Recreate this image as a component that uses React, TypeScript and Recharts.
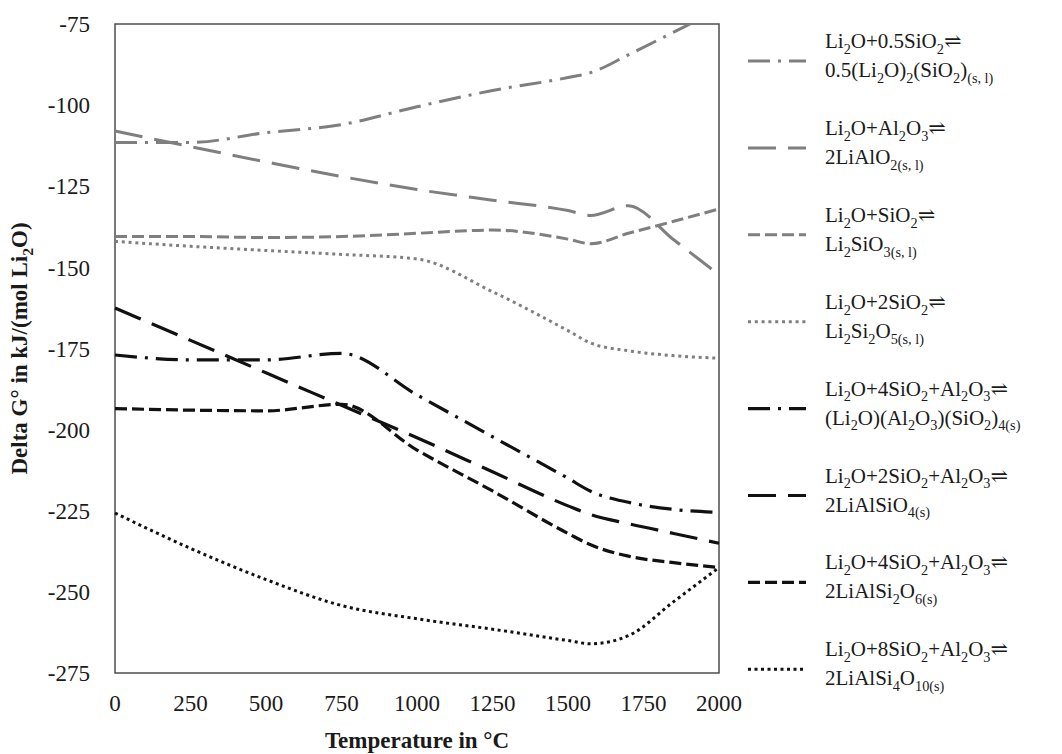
import React from "react";
import { LineChart, Line, XAxis, YAxis, ReferenceArea, Legend } from "recharts";

// temperatures (°C) at which every reaction is read
const temps = [0, 250, 500, 750, 1000, 1250, 1500, 1575, 1700, 1850, 2000];

// Delta G° in kJ/(mol Li2O)
const li2oHalfSio2 = [-111.5, -111.5, -108.5, -106, -100.5, -95.5, -91.5, -90, -84.5, -77.5, -70.5];
const li2oAl2o3 = [-108, -112.8, -117.5, -122, -126, -129.3, -132.5, -134, -131, -141.5, -152.3];
const li2oSio2 = [-140.5, -140.5, -140.8, -140.5, -139.5, -138.5, -141.3, -142.7, -139.5, -135.8, -132];
const li2o2Sio2 = [-142, -143.5, -144.8, -146, -147.4, -157.5, -169.5, -173.3, -175.7, -177.2, -178];
const li2o4Sio2Al2o3 = [-177, -178.5, -178.5, -176.5, -189.3, -202.2, -215, -219, -222.4, -224.6, -225.5];
const li2o2Sio2Al2o3 = [-162.5, -172.5, -182.5, -192.5, -202.5, -213, -223.5, -226.2, -229, -232, -235];
const spodumene = [-193.5, -194, -194.2, -192.2, -206.3, -218.9, -232, -235.5, -239, -241, -242.5];
const petalite = [-225.7, -236.6, -246.2, -254.2, -258.3, -261.5, -265, -266, -263.5, -253, -242.5];

const yTicks = [-75, -100, -125, -150, -175, -200, -225, -250, -275];
const xTicks = [0, 250, 500, 750, 1000, 1250, 1500, 1750, 2000];

const legendLabels = [
  ["Li_{2}O+0.5SiO_{2}⇌", "0.5(Li_{2}O)_{2}(SiO_{2})_{(s, l)}"],
  ["Li_{2}O+Al_{2}O_{3}⇌", "2LiAlO_{2(s, l)}"],
  ["Li_{2}O+SiO_{2}⇌", "Li_{2}SiO_{3(s, l)}"],
  ["Li_{2}O+2SiO_{2}⇌", "Li_{2}Si_{2}O_{5(s, l)}"],
  ["Li_{2}O+4SiO_{2}+Al_{2}O_{3}⇌", "(Li_{2}O)(Al_{2}O_{3})(SiO_{2})_{4(s)}"],
  ["Li_{2}O+2SiO_{2}+Al_{2}O_{3}⇌", "2LiAlSiO_{4(s)}"],
  ["Li_{2}O+4SiO_{2}+Al_{2}O_{3}⇌", "2LiAlSi_{2}O_{6(s)}"],
  ["Li_{2}O+8SiO_{2}+Al_{2}O_{3}⇌", "2LiAlSi_{4}O_{10(s)}"],
];

const GRAY = "#7f7f7f";
const BLACK = "#111111";
const FONT = '"Liberation Serif", "DejaVu Serif", serif';

const series = [
  { key: "s1", values: li2oHalfSio2, color: GRAY, dash: "22 8 3 8", width: 3 },
  { key: "s2", values: li2oAl2o3, color: GRAY, dash: "28 12", width: 3 },
  { key: "s3", values: li2oSio2, color: GRAY, dash: "12 5", width: 3 },
  { key: "s4", values: li2o2Sio2, color: GRAY, dash: "3 3.8", width: 3 },
  { key: "s5", values: li2o4Sio2Al2o3, color: BLACK, dash: "22 8 3 8", width: 3.2 },
  { key: "s6", values: li2o2Sio2Al2o3, color: BLACK, dash: "28 12", width: 3.2 },
  { key: "s7", values: spodumene, color: BLACK, dash: "12 5", width: 3.2 },
  { key: "s8", values: petalite, color: BLACK, dash: "3 3.5", width: 3 },
];

const data = temps.map((t, i) => {
  const row: Record<string, number> = { t };
  series.forEach((s) => (row[s.key] = s.values[i]));
  return row;
});

// text with _{...} subscripts
function Formula({ text, x, y, size, weight, anchor, transform }: any) {
  const parts = text.split(/(_\{[^}]*\})/).filter(Boolean);
  const shift = size * 0.28;
  let down = false;
  return (
    <text x={x} y={y} fontSize={size} fontFamily={FONT} fontWeight={weight} fill="#1a1a1a" textAnchor={anchor} transform={transform}>
      {parts.map((p: string, i: number) => {
        if (p.startsWith("_{")) {
          const el = (
            <tspan key={i} dy={down ? 0 : shift} fontSize={size * 0.68}>
              {p.slice(2, -1)}
            </tspan>
          );
          down = true;
          return el;
        }
        const el = (
          <tspan key={i} dy={down ? -shift : 0}>
            {p}
          </tspan>
        );
        down = false;
        return el;
      })}
    </text>
  );
}

function LegendBox() {
  return (
    <svg width={317} height={754}>
      {series.map((s, i) => {
        const base = 48 + i * 86.9;
        return (
          <g key={s.key}>
            <line x1={3} x2={61} y1={base + 13} y2={base + 13} stroke={s.color} strokeWidth={s.width} strokeDasharray={s.dash} />
            <Formula text={legendLabels[i][0]} x={80} y={base} size={21} />
            <Formula text={legendLabels[i][1]} x={80} y={base + 29} size={21} />
          </g>
        );
      })}
    </svg>
  );
}

export default function App() {
  return (
    <div style={{ position: "absolute", left: 0, top: 0, background: "#fff" }}>
      <LineChart width={1062} height={754} data={data} margin={{ top: 24, right: 343, left: 30, bottom: 41 }}>
        <XAxis
          dataKey="t"
          type="number"
          domain={[0, 2000]}
          ticks={xTicks}
          axisLine={false}
          tickLine={false}
          tickSize={0}
          tickMargin={22}
          height={40}
          tick={{ fill: "#1a1a1a", fontSize: 23, fontFamily: FONT }}
          label={{
            content: ({ viewBox }: any) => (
              <Formula text="Temperature in °C" x={viewBox.x + viewBox.width / 2} y={viewBox.y + 75} size={23} weight="bold" anchor="middle" />
            ),
          }}
        />
        <YAxis
          type="number"
          domain={[-275, -75]}
          ticks={yTicks}
          allowDataOverflow
          axisLine={false}
          tickLine={false}
          tickSize={0}
          tickMargin={25}
          width={85}
          tick={{ fill: "#1a1a1a", fontSize: 23, fontFamily: FONT }}
          label={{
            content: ({ viewBox }: any) => {
              const cx = viewBox.x - 3;
              const cy = viewBox.y + viewBox.height / 2;
              return (
                <Formula
                  text="Delta G° in kJ/(mol Li_{2}O)"
                  x={cx}
                  y={cy}
                  size={23}
                  weight="bold"
                  anchor="middle"
                  transform={`rotate(-90, ${cx}, ${cy})`}
                />
              );
            },
          }}
        />
        <ReferenceArea x1={0} x2={2000} y1={-275} y2={-75} fill="none" stroke="#4d4d4d" strokeWidth={1.5} ifOverflow="visible" />
        {series.map((s) => (
          <Line
            key={s.key}
            dataKey={s.key}
            type="monotone"
            stroke={s.color}
            strokeWidth={s.width}
            strokeDasharray={s.dash}
            dot={false}
            activeDot={false}
            isAnimationActive={false}
          />
        ))}
        <Legend
          layout="vertical"
          align="center"
          verticalAlign="middle"
          content={() => <LegendBox />}
          wrapperStyle={{ left: 745, top: 0, width: 317, height: 754 }}
        />
      </LineChart>
    </div>
  );
}
